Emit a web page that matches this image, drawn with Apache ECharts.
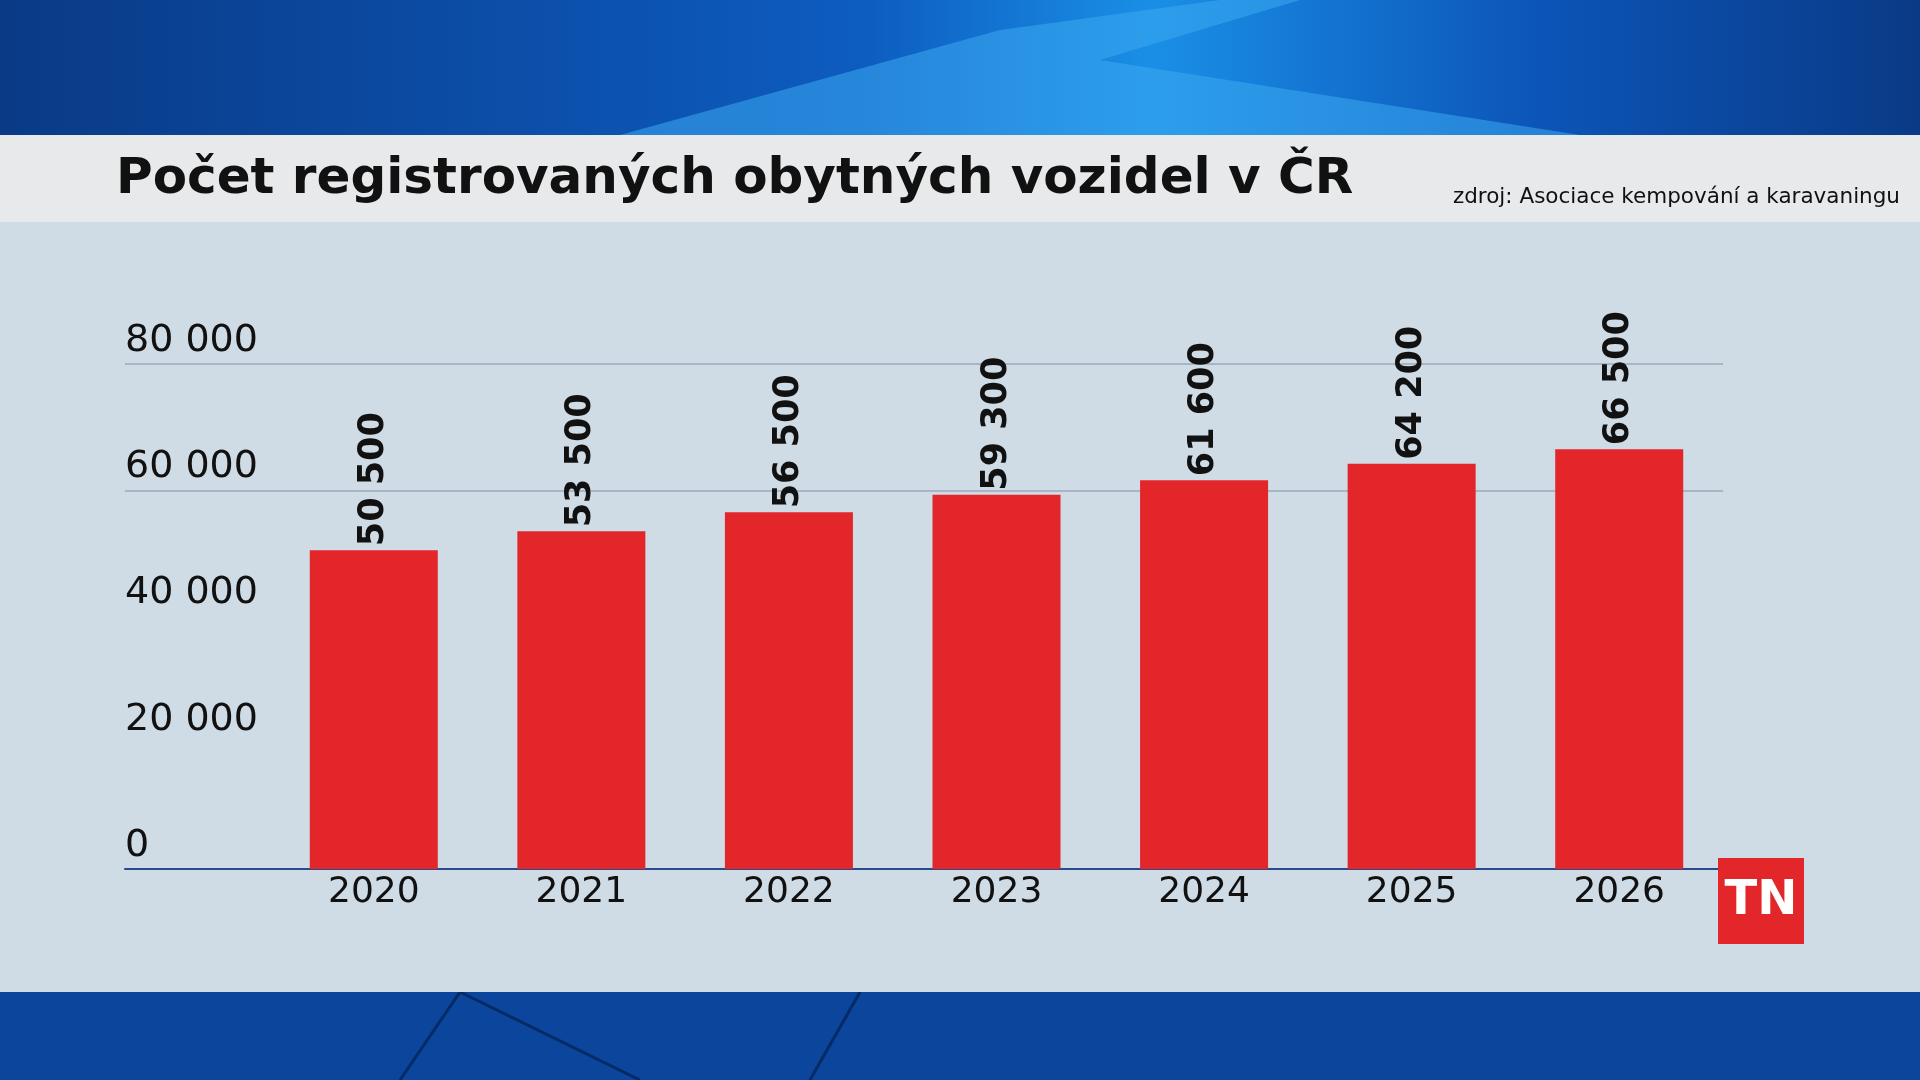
<!DOCTYPE html>
<html><head><meta charset="utf-8">
<script src="https://cdn.jsdelivr.net/npm/echarts@6/dist/echarts.min.js"></script>
<style>html,body{margin:0;padding:0;}#c{width:1920px;height:1080px;}</style>
</head><body><div id="c"></div>
<script>
const categories = ['2020','2021','2022','2023','2024','2025','2026'];
const values = [50500,53500,56500,59300,61600,64200,66500];
const yTicks = [0,20000,40000,60000,80000];
const title = 'Počet registrovaných obytných vozidel v ČR';
const source = 'zdroj: Asociace kempování a karavaningu';
const FF = '"DejaVu Sans", Lato, sans-serif';
const fmt = v => String(v).replace(/\B(?=(\d{3})+(?!\d))/g,' ');
const chart = echarts.init(document.getElementById('c'));
chart.setOption({
  animation:false,
  backgroundColor:'#0b3f8f',
  graphic:[
    {type:'rect',shape:{x:0,y:0,width:1920,height:135},style:{fill:new echarts.graphic.LinearGradient(0,0,1,0,[{offset:0,color:'#0a3a86'},{offset:0.45,color:'#0d5cc0'},{offset:0.6,color:'#1a8fe6'},{offset:0.8,color:'#0c55b8'},{offset:1,color:'#0a3a86'}])},z:-10},
    {type:'polygon',shape:{points:[[620,135],[1000,30],[1220,0],[1300,0],[1100,60],[1580,135]]},style:{fill:'rgba(60,170,240,0.55)'},z:-9},
    {type:'rect',shape:{x:0,y:992,width:1920,height:88},style:{fill:'#0b469c'},z:-10},
    {type:'line',shape:{x1:400,y1:1080,x2:460,y2:992},style:{stroke:'#062a66',lineWidth:3},z:-9},
    {type:'line',shape:{x1:460,y1:992,x2:640,y2:1080},style:{stroke:'#062a66',lineWidth:3},z:-9},
    {type:'line',shape:{x1:810,y1:1080,x2:860,y2:992},style:{stroke:'#062a66',lineWidth:3},z:-9},
    {type:'rect',shape:{x:0,y:135,width:1920,height:87},style:{fill:'#e7e9eb'},z:-8},
    {type:'rect',shape:{x:0,y:222,width:1920,height:770},style:{fill:'#cfdbe5'},z:-8},
    {type:'text',left:116,top:155,style:{text:title,font:'bold 50px '+FF,fill:'#111'}},
    {type:'text',right:20,top:186,style:{text:source,font:'21.5px '+FF,fill:'#111'}},
    {type:'rect',shape:{x:1718,y:858,width:86,height:86},style:{fill:'#e3262a'},z:5},
    {type:'text',x:1761,y:902,style:{text:'TN',font:'bold 48px '+FF,fill:'#fff',align:'center',verticalAlign:'middle'},z:6}
  ],
  grid:[
    {left:125,right:197,top:364,height:505},
    {left:270,right:197,top:364,height:505}
  ],
  xAxis:[
    {gridIndex:0,type:'value',min:0,max:1,show:true,axisLine:{show:true,lineStyle:{color:'#2a4a8a',width:2}},axisTick:{show:false},axisLabel:{show:false},splitLine:{show:false}},
    {gridIndex:1,type:'category',data:categories,axisLine:{show:false},axisTick:{show:false},
     axisLabel:{color:'#111',fontSize:36,fontFamily:FF,margin:6}}
  ],
  yAxis:[
    {gridIndex:0,type:'value',min:0,max:80000,interval:20000,axisLine:{show:false},axisTick:{show:false},
     splitLine:{lineStyle:{color:['rgba(0,0,0,0)','rgba(0,0,0,0)','rgba(0,0,0,0)','#9aa8b8','#9aa8b8'],width:1.5}},
     axisLabel:{inside:true,align:'left',verticalAlign:'bottom',margin:0,color:'#111',fontSize:38,fontFamily:FF,formatter:v=>fmt(v),padding:[0,0,4,0]}},
    {gridIndex:1,type:'value',min:0,max:80000,show:false}
  ],
  series:[{type:'bar',xAxisIndex:1,yAxisIndex:1,data:values,barWidth:128,itemStyle:{color:'#e2262a'},
    label:{show:true,position:'top',rotate:90,align:'left',verticalAlign:'middle',distance:4,
      formatter:p=>fmt(p.value),color:'#111',fontSize:35,fontWeight:'bold',fontFamily:FF}}]
});
</script></body></html>
